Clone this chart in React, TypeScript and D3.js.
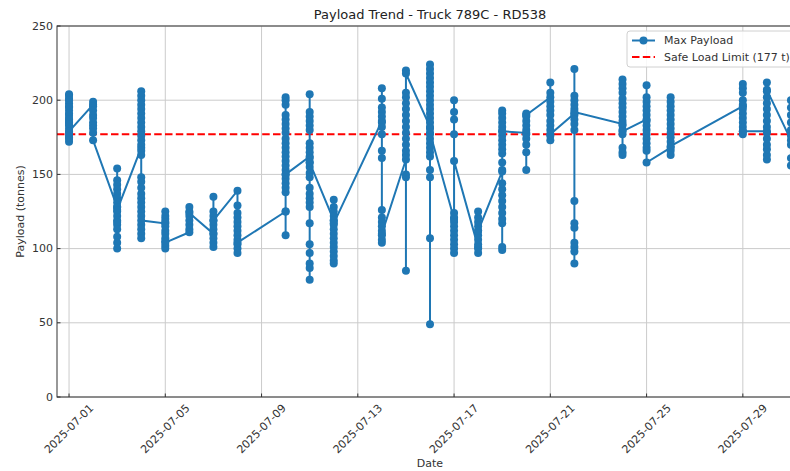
import React, { useRef, useEffect } from 'react';
import * as d3 from 'd3';

// dates that have readings
const dates = [
  '2025-07-01', '2025-07-02', '2025-07-03', '2025-07-04', '2025-07-05', '2025-07-06',
  '2025-07-07', '2025-07-08', '2025-07-10', '2025-07-11', '2025-07-12', '2025-07-14',
  '2025-07-15', '2025-07-16', '2025-07-17', '2025-07-18', '2025-07-19', '2025-07-20',
  '2025-07-21', '2025-07-22', '2025-07-24', '2025-07-25', '2025-07-26', '2025-07-29',
  '2025-07-30', '2025-07-31',
];

// max payload readings for each date, in the order they were logged
const payloads = [
  [185, 204, 201, 198, 196, 193, 190, 188, 186, 183, 181, 176, 174, 172, 175, 178, 203, 200, 195, 191, 187, 184, 179],
  [197, 199, 196, 193, 190, 188, 185, 183, 181, 178, 173],
  [128, 154, 146, 143, 140, 137, 134, 131, 128, 125, 122, 119, 116, 108, 104, 100, 113, 118, 126],
  [168, 206, 203, 200, 197, 194, 191, 188, 185, 182, 179, 176, 173, 170, 166, 163, 148, 145, 141, 137, 134, 131, 128, 125, 122, 116, 113, 110, 107, 119],
  [117, 125, 122, 120, 118, 115, 112, 110, 107, 105, 102, 100, 104],
  [111, 113, 116, 119, 122, 125, 128, 124],
  [110, 135, 125, 122, 119, 116, 113, 110, 107, 104, 101, 119],
  [139, 129, 124, 121, 118, 115, 112, 109, 106, 103, 100, 97, 104],
  [125, 109, 125, 138, 141, 144, 147, 150, 153, 156, 159, 162, 165, 168, 171, 174, 178, 181, 184, 187, 190, 197, 200, 202, 150],
  [162, 204, 192, 189, 186, 183, 180, 171, 168, 165, 161, 158, 155, 151, 148, 141, 137, 134, 131, 128, 117, 103, 97, 90, 87, 79, 158],
  [119, 133, 128, 125, 122, 119, 116, 113, 110, 107, 104, 101, 98, 95, 92, 90, 117],
  [186, 208, 201, 195, 192, 189, 185, 182, 177, 166, 161, 126, 121, 118, 115, 112, 109, 106, 104, 110],
  [160, 148, 85, 150, 163, 166, 170, 174, 178, 182, 186, 190, 194, 198, 202, 205, 220, 218],
  [182, 224, 221, 218, 215, 212, 209, 206, 203, 200, 197, 194, 191, 188, 185, 181, 177, 174, 171, 168, 165, 162, 153, 148, 107, 49, 178],
  [120, 124, 121, 118, 115, 112, 109, 106, 103, 100, 97, 177, 187, 192, 200, 159],
  [101, 97, 100, 103, 106, 109, 112, 115, 118, 121, 125, 112],
  [152, 99, 101, 117, 120, 124, 128, 132, 136, 140, 144, 153, 158, 164, 167, 170, 173, 176, 179, 182, 185, 188, 191, 193, 179],
  [178, 153, 165, 170, 174, 177, 180, 183, 186, 189, 191, 190],
  [202, 212, 205, 199, 196, 193, 190, 186, 183, 180, 176, 173, 177],
  [191, 221, 203, 200, 197, 194, 190, 187, 184, 180, 132, 117, 114, 104, 101, 98, 90, 192],
  [184, 214, 211, 208, 205, 201, 198, 195, 192, 189, 186, 183, 180, 177, 168, 165, 163, 179],
  [187, 210, 202, 199, 196, 193, 190, 186, 183, 180, 177, 174, 171, 168, 166, 158],
  [168, 202, 199, 196, 193, 190, 187, 184, 181, 178, 175, 172, 166, 163, 169],
  [196, 211, 208, 205, 200, 197, 194, 191, 188, 185, 182, 179, 177, 179],
  [179, 160, 163, 167, 170, 174, 178, 182, 186, 190, 194, 198, 202, 206, 212, 207],
  [173, 200, 195, 190, 185, 180, 176, 170, 161, 156],
];

const safeLimit = 177;
const yTicks = [0, 50, 100, 150, 200, 250];
const xTickLabels = [
  '2025-07-01', '2025-07-05', '2025-07-09', '2025-07-13', '2025-07-17',
  '2025-07-21', '2025-07-25', '2025-07-29',
];

const FONT = '"DejaVu Sans", sans-serif';
const BLUE = '#1f77b4';

const PayloadChart = () => {
  const svgRef = useRef<SVGSVGElement>(null);

  useEffect(() => {
    const width = 790;
    const height = 471;
    const margin = { top: 26, left: 57, bottom: 74, right: -13 }; // right side runs past the picture edge
    const innerW = width - margin.left - margin.right;
    const innerH = height - margin.top - margin.bottom;

    const parse = d3.utcParse('%Y-%m-%d');
    const points: { date: Date; value: number }[] = [];
    dates.forEach((d, i) => {
      payloads[i].forEach((v) => points.push({ date: parse(d)!, value: v }));
    });

    const svg = d3.select(svgRef.current);
    svg.selectAll('*').remove();

    const g = svg.append('g').attr('transform', `translate(${margin.left},${margin.top})`);

    const start = new Date(Date.UTC(2025, 5, 30, 12));
    const end = new Date(Date.UTC(2025, 6, 31, 12));
    const x = d3.scaleUtc().domain([start, end]).range([0, innerW]);
    const y = d3.scaleLinear().domain([0, 250]).range([innerH, 0]);

    // grid
    g.append('g')
      .selectAll('line')
      .data(xTickLabels)
      .join('line')
      .attr('x1', (d) => x(parse(d)!))
      .attr('x2', (d) => x(parse(d)!))
      .attr('y1', 0)
      .attr('y2', innerH)
      .attr('stroke', '#cbcbcb')
      .attr('stroke-width', 1);
    g.append('g')
      .selectAll('line')
      .data(yTicks)
      .join('line')
      .attr('x1', 0)
      .attr('x2', innerW)
      .attr('y1', (d) => y(d))
      .attr('y2', (d) => y(d))
      .attr('stroke', '#cbcbcb')
      .attr('stroke-width', 1);

    // safe load limit
    g.append('line')
      .attr('x1', 0)
      .attr('x2', innerW)
      .attr('y1', y(safeLimit))
      .attr('y2', y(safeLimit))
      .attr('stroke', 'red')
      .attr('stroke-width', 2)
      .attr('stroke-dasharray', '7.5,3.3');

    // payload line + markers
    const line = d3
      .line<{ date: Date; value: number }>()
      .x((d) => x(d.date))
      .y((d) => y(d.value));
    g.append('path')
      .datum(points)
      .attr('fill', 'none')
      .attr('stroke', BLUE)
      .attr('stroke-width', 2)
      .attr('d', line);
    g.append('g')
      .selectAll('circle')
      .data(points)
      .join('circle')
      .attr('cx', (d) => x(d.date))
      .attr('cy', (d) => y(d.value))
      .attr('r', 4)
      .attr('fill', BLUE);

    // frame
    g.append('rect')
      .attr('width', innerW)
      .attr('height', innerH)
      .attr('fill', 'none')
      .attr('stroke', '#333')
      .attr('stroke-width', 1);

    // y ticks
    const yt = g.append('g').selectAll('g').data(yTicks).join('g');
    yt.append('line')
      .attr('x1', 0)
      .attr('x2', 3.5)
      .attr('y1', (d) => y(d))
      .attr('y2', (d) => y(d))
      .attr('stroke', '#333');
    yt.append('text')
      .attr('x', -4)
      .attr('y', (d) => y(d))
      .attr('text-anchor', 'end')
      .attr('dominant-baseline', 'central')
      .attr('font-family', FONT)
      .attr('font-size', 11)
      .attr('fill', '#333')
      .text((d) => d);

    // x ticks
    const xt = g.append('g').selectAll('g').data(xTickLabels).join('g');
    xt.append('line')
      .attr('x1', (d) => x(parse(d)!))
      .attr('x2', (d) => x(parse(d)!))
      .attr('y1', innerH)
      .attr('y2', innerH - 3.5)
      .attr('stroke', '#333');
    xt.append('text')
      .attr('transform', (d) => `translate(${x(parse(d)!)},${innerH + 32}) rotate(-45)`)
      .attr('text-anchor', 'middle')
      .attr('dominant-baseline', 'central')
      .attr('font-family', FONT)
      .attr('font-size', 11)
      .attr('fill', '#333')
      .text((d) => d);

    // axis titles
    svg.append('text')
      .attr('x', margin.left + innerW / 2)
      .attr('y', 467)
      .attr('text-anchor', 'middle')
      .attr('font-family', FONT)
      .attr('font-size', 11)
      .attr('fill', '#333')
      .text('Date');
    svg.append('text')
      .attr('transform', `translate(24,${margin.top + innerH / 2}) rotate(-90)`)
      .attr('text-anchor', 'middle')
      .attr('font-family', FONT)
      .attr('font-size', 11)
      .attr('fill', '#333')
      .text('Payload (tonnes)');
    svg.append('text')
      .attr('x', margin.left + innerW / 2)
      .attr('y', 19)
      .attr('text-anchor', 'middle')
      .attr('font-family', FONT)
      .attr('font-size', 13)
      .attr('fill', '#222')
      .text('Payload Trend - Truck 789C - RD538');

    // legend
    const lg = svg.append('g').attr('transform', 'translate(627,31)');
    lg.append('rect')
      .attr('width', 180)
      .attr('height', 36)
      .attr('rx', 3)
      .attr('fill', 'white')
      .attr('fill-opacity', 0.85)
      .attr('stroke', '#d0d0d0');
    lg.append('line')
      .attr('x1', 5).attr('x2', 28).attr('y1', 9.5).attr('y2', 9.5)
      .attr('stroke', BLUE).attr('stroke-width', 2);
    lg.append('circle').attr('cx', 16.5).attr('cy', 9.5).attr('r', 4).attr('fill', BLUE);
    lg.append('line')
      .attr('x1', 5).attr('x2', 28).attr('y1', 26).attr('y2', 26)
      .attr('stroke', 'red').attr('stroke-width', 2).attr('stroke-dasharray', '7.5,3.3');
    lg.append('text')
      .attr('x', 37).attr('y', 9.5)
      .attr('dominant-baseline', 'central')
      .attr('font-family', FONT).attr('font-size', 11).attr('fill', '#333')
      .text('Max Payload');
    lg.append('text')
      .attr('x', 37).attr('y', 26)
      .attr('dominant-baseline', 'central')
      .attr('font-family', FONT).attr('font-size', 11).attr('fill', '#333')
      .text(`Safe Load Limit (${safeLimit} t)`);
  }, []);

  return (
    <svg
      ref={svgRef}
      width={790}
      height={471}
      style={{ position: 'absolute', left: 0, top: 0, background: 'white', overflow: 'hidden' }}
    />
  );
};

export default function App() {
  return <PayloadChart />;
}
